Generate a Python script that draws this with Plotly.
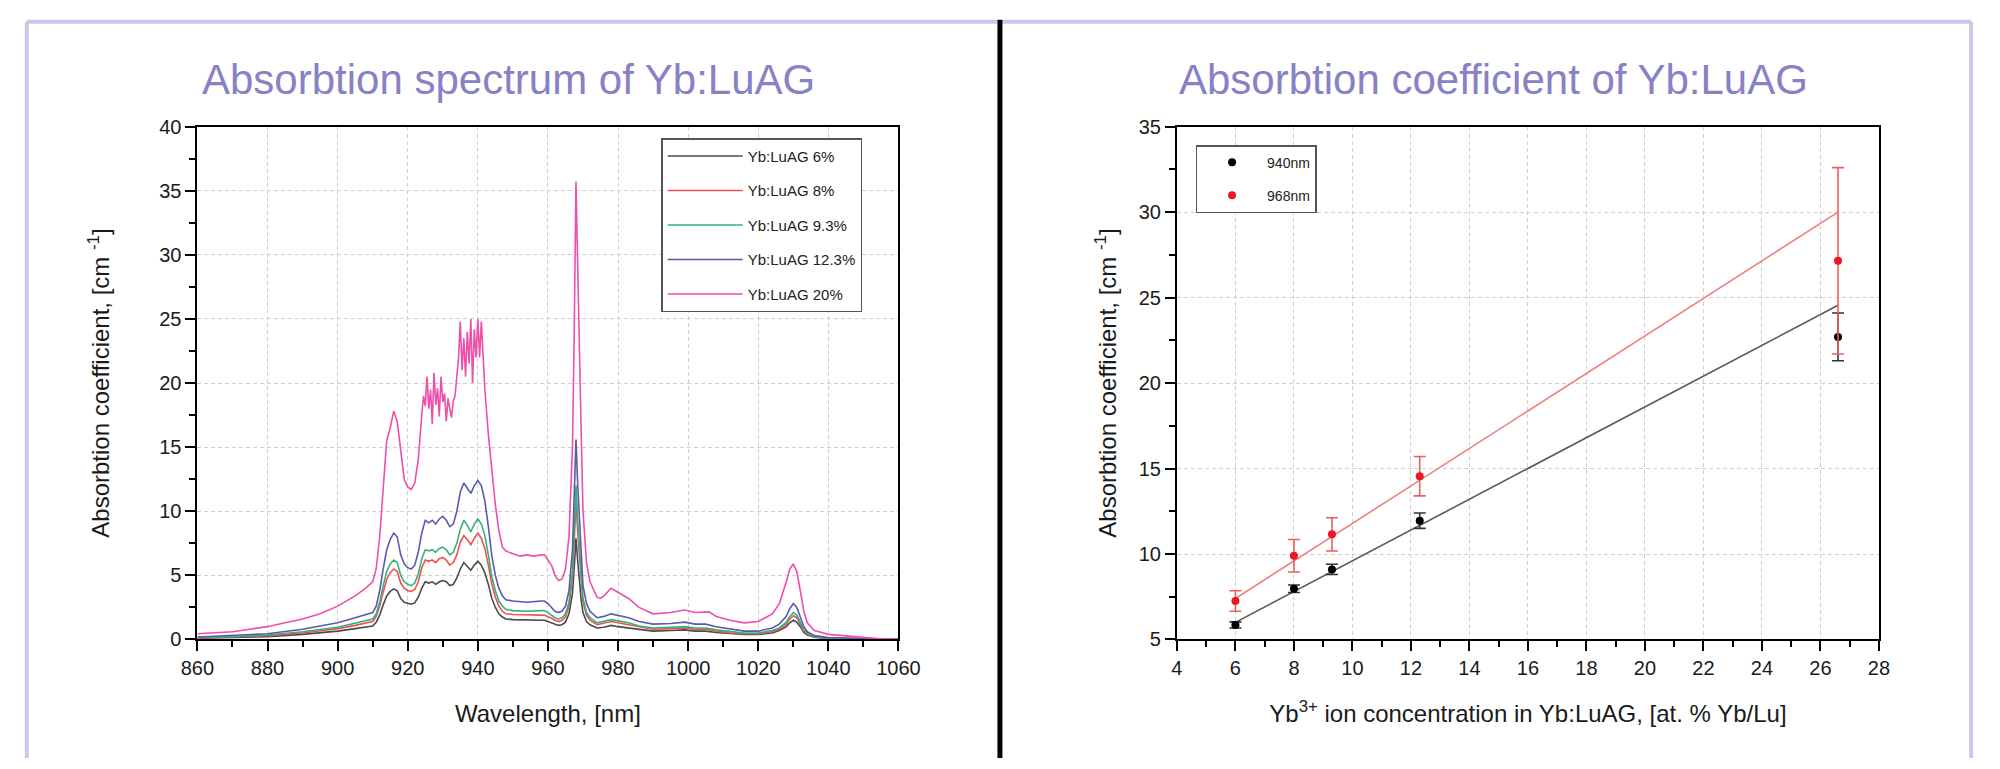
import plotly.graph_objects as go

# ---------------- data: absorption spectra ----------------
wl_grid = [
    860, 870, 880, 890, 900, 905, 908, 910,
    911, 912, 913, 914, 915, 916, 917, 918, 919, 920,
    921, 922, 923, 924, 925, 926, 927, 928, 929, 930,
    931, 932, 933, 934, 935, 936, 937, 938, 939, 940,
    941, 942, 943, 944, 945, 946, 947, 948, 950, 954,
    958, 959, 960, 961, 962, 963, 964, 965, 966, 967,
    967.5, 968, 968.5, 969, 969.5, 970, 971, 972, 974, 976,
    978, 980, 983, 986, 990, 995, 999, 1002, 1005, 1008,
    1012, 1016, 1020, 1024, 1026, 1028, 1029, 1030, 1031, 1032,
    1033, 1034, 1036, 1040, 1045, 1050, 1055, 1060,
]

abs_6 = [
    0.10, 0.15, 0.22, 0.40, 0.65, 0.85, 1.00, 1.05,
    1.35, 1.9, 2.7, 3.4, 3.75, 3.95, 3.8, 3.2, 2.9, 2.8,
    2.75, 2.85, 3.3, 4.0, 4.5, 4.4, 4.5, 4.3, 4.5, 4.6,
    4.5, 4.2, 4.3, 4.8, 5.5, 6.0, 5.7, 5.4, 5.8, 6.1,
    5.8, 5.2, 4.3, 3.2, 2.5, 2.0, 1.75, 1.6, 1.55, 1.5,
    1.5, 1.5, 1.4, 1.3, 1.15, 1.1, 1.15, 1.35, 2.0, 3.6,
    5.6, 7.9, 6.1, 4.5, 3.0, 2.1, 1.4, 1.15, 0.9, 0.95,
    1.1, 1.0, 0.9, 0.75, 0.65, 0.7, 0.75, 0.65, 0.65, 0.55,
    0.45, 0.4, 0.4, 0.5, 0.7, 1.0, 1.3, 1.5, 1.35, 1.0,
    0.55, 0.35, 0.18, 0.08, 0.05, 0.03, 0.01, 0.0,
]

abs_8 = [
    0.12, 0.20, 0.30, 0.50, 0.85, 1.10, 1.30, 1.40,
    1.8, 2.6, 3.7, 4.7, 5.2, 5.5, 5.3, 4.4, 4.0, 3.8,
    3.75, 3.9, 4.5, 5.6, 6.2, 6.1, 6.2, 6.0, 6.3, 6.4,
    6.2, 5.8, 6.0, 6.6, 7.6, 8.1, 7.8, 7.4, 7.9, 8.3,
    7.9, 7.1, 5.8, 4.3, 3.3, 2.6, 2.2, 2.0, 1.95, 1.9,
    1.9, 1.9, 1.8, 1.65, 1.5, 1.4, 1.5, 1.75, 2.6, 4.8,
    7.6, 10.8, 8.3, 6.2, 4.1, 2.9, 1.9, 1.5, 1.15, 1.25,
    1.4, 1.3, 1.15, 0.95, 0.8, 0.85, 0.9, 0.8, 0.8, 0.65,
    0.5, 0.45, 0.45, 0.6, 0.8, 1.2, 1.6, 1.85, 1.7, 1.2,
    0.65, 0.4, 0.2, 0.1, 0.07, 0.03, 0.02, 0.01,
]

abs_93 = [
    0.15, 0.22, 0.35, 0.60, 0.95, 1.25, 1.45, 1.60,
    2.0, 2.9, 4.2, 5.3, 5.9, 6.2, 6.0, 5.0, 4.5, 4.3,
    4.2, 4.4, 5.1, 6.3, 7.0, 6.9, 7.0, 6.8, 7.1, 7.2,
    7.0, 6.6, 6.8, 7.5, 8.6, 9.3, 8.9, 8.4, 9.0, 9.4,
    9.0, 8.1, 6.6, 4.9, 3.8, 3.0, 2.6, 2.35, 2.25, 2.2,
    2.25, 2.25, 2.1, 1.9, 1.7, 1.6, 1.7, 2.0, 2.9, 5.3,
    8.4, 12.0, 9.2, 6.9, 4.6, 3.2, 2.1, 1.7, 1.3, 1.4,
    1.55, 1.45, 1.3, 1.05, 0.9, 0.95, 1.0, 0.9, 0.9, 0.75,
    0.6, 0.5, 0.5, 0.7, 0.9, 1.35, 1.8, 2.1, 1.9, 1.35,
    0.75, 0.45, 0.22, 0.12, 0.08, 0.04, 0.02, 0.01,
]

abs_123 = [
    0.20, 0.30, 0.45, 0.80, 1.30, 1.70, 1.95, 2.10,
    2.6, 3.8, 5.5, 7.0, 7.8, 8.3, 8.0, 6.6, 5.9, 5.6,
    5.5, 5.8, 6.8, 8.3, 9.3, 9.1, 9.3, 9.0, 9.4, 9.6,
    9.3, 8.8, 9.0, 10.0, 11.5, 12.2, 11.8, 11.4, 12.0, 12.4,
    12.0, 10.8, 8.8, 6.5, 5.0, 4.0, 3.4, 3.1, 3.0, 2.9,
    3.0, 3.0, 2.8, 2.5, 2.2, 2.1, 2.2, 2.6, 3.8, 7.0,
    11.0, 15.6, 12.0, 9.0, 6.0, 4.2, 2.8, 2.2, 1.7, 1.8,
    2.0, 1.9, 1.7, 1.4, 1.2, 1.25, 1.35, 1.2, 1.2, 1.0,
    0.8, 0.65, 0.65, 0.9, 1.2, 1.8, 2.4, 2.8, 2.5, 1.8,
    1.0, 0.6, 0.3, 0.15, 0.1, 0.05, 0.02, 0.01,
]

wl_20 = [
    860, 865, 870, 875, 880, 885, 890, 895, 900, 905,
    908, 910, 911, 912, 913, 914, 915, 916, 917, 918,
    919, 920, 921, 922, 923, 924, 924.5, 925, 925.5, 926,
    926.5, 927, 927.5, 928, 928.5, 929, 929.5, 930, 930.5, 931,
    931.5, 932, 932.5, 933, 933.5, 934, 934.5, 935, 935.5, 936,
    936.5, 937, 937.5, 938, 938.5, 939, 939.5, 940, 940.5, 941,
    941.5, 942, 943, 944, 945, 946, 947, 948, 950, 952,
    954, 956, 958, 959, 960, 961, 962, 963, 964, 965,
    966, 967, 967.5, 968, 968.5, 969, 969.5, 970, 971, 972,
    974, 975, 976, 978, 980, 983, 986, 990, 995, 999,
    1002, 1005, 1006, 1008, 1012, 1016, 1020, 1024, 1026, 1028,
    1029, 1030, 1031, 1032, 1033, 1034, 1036, 1040, 1045, 1050, 1055, 1060,
]
abs_20 = [
    0.45, 0.5, 0.6, 0.8, 1.0, 1.3, 1.6, 2.0, 2.6, 3.4,
    4.0, 4.5, 5.5, 8.0, 12.0, 15.5, 16.5, 17.8, 17.0, 14.5,
    12.5, 11.9, 11.7, 12.2, 14.0, 17.5, 19.0, 18.2, 20.5, 18.0,
    19.5, 16.8, 20.8, 18.3, 19.6, 17.4, 20.5, 18.5, 19.2, 17.0,
    18.8, 18.0, 17.3, 18.6, 19.0, 20.5, 22.0, 24.8, 21.0, 23.5,
    20.5, 24.0, 21.5, 25.0, 20.0, 24.2, 22.0, 25.0, 22.0, 24.8,
    22.0, 19.5, 16.0, 13.0, 10.5, 8.5, 7.2, 6.9, 6.7, 6.5,
    6.6, 6.5, 6.6, 6.6, 6.2, 5.8, 5.0, 4.6, 4.7, 5.5,
    8.0, 15.0, 24.0, 35.7, 29.0, 23.5, 16.0, 10.0, 6.0, 4.5,
    3.3, 3.2, 3.4, 4.0, 3.7, 3.2, 2.5, 2.0, 2.1, 2.3,
    2.1, 2.1, 2.15, 1.8, 1.5, 1.3, 1.4, 2.0, 2.8, 4.5,
    5.5, 5.9, 5.3, 3.8, 2.2, 1.3, 0.7, 0.4, 0.3, 0.15, 0.05, 0.02,
]

spectrum_names = ["Yb:LuAG 6%", "Yb:LuAG 8%", "Yb:LuAG 9.3%", "Yb:LuAG 12.3%", "Yb:LuAG 20%"]

# ---------------- data: absorption coefficient vs concentration ----------------
conc = [6, 8, 9.3, 12.3, 26.6]
coef_940 = [5.85, 7.97, 9.1, 11.95, 22.7]
err_940 = [0.18, 0.22, 0.3, 0.45, 1.4]
coef_968 = [7.25, 9.9, 11.15, 14.55, 27.15]
err_968 = [0.6, 0.95, 0.97, 1.15, 5.45]
fit_x = [6, 26.6]
fit_940 = [6.0, 24.55]
fit_968 = [7.4, 30.0]

# ---------------- figure ----------------
W, H = 2000, 769
def px(x):
    return x / W
def py(y):
    return 1 - y / H

FONT = "Liberation Sans, Arial, Helvetica, sans-serif"
TITLE_COLOR = "#8781C6"

fig = go.Figure()

spec_colors = ["#4a4a4a", "#F05050", "#35B27A", "#5A5AAE", "#EE4FA8"]
spec_x = [wl_grid, wl_grid, wl_grid, wl_grid, wl_20]
spec_y = [abs_6, abs_8, abs_93, abs_123, abs_20]
for name, xs, ys, col in zip(spectrum_names, spec_x, spec_y, spec_colors):
    fig.add_trace(go.Scatter(
        x=xs, y=ys, mode="lines", name=name,
        line=dict(color=col, width=1.6),
        xaxis="x", yaxis="y", legend="legend", legendgroup=name,
    ))

fig.add_trace(go.Scatter(x=fit_x, y=fit_968, mode="lines", showlegend=False,
                         line=dict(color="#F08080", width=1.6), xaxis="x2", yaxis="y2"))
fig.add_trace(go.Scatter(x=fit_x, y=fit_940, mode="lines", showlegend=False,
                         line=dict(color="#5a5a5a", width=1.6), xaxis="x2", yaxis="y2"))
fig.add_trace(go.Scatter(
    x=conc, y=coef_940, mode="markers", name="940nm",
    marker=dict(color="black", size=8),
    error_y=dict(type="data", array=err_940, color="#333333", thickness=1.6, width=6),
    xaxis="x2", yaxis="y2", legend="legend2", legendgroup="940",
))
fig.add_trace(go.Scatter(
    x=conc, y=coef_968, mode="markers", name="968nm",
    marker=dict(color="#E8191F", size=8),
    error_y=dict(type="data", array=err_968, color="#E86060", thickness=1.6, width=6),
    xaxis="x2", yaxis="y2", legend="legend2", legendgroup="968",
))

tickfont = dict(family=FONT, size=20, color="#1a1a1a")
titlefont = dict(family=FONT, size=24, color="#1a1a1a")
axis_common = dict(
    showline=True, linecolor="black", linewidth=2, mirror=True,
    ticks="outside", tickcolor="black", tickwidth=2, ticklen=10,
    showgrid=True, gridcolor="#cfcfcf", griddash="4px,3px", gridwidth=1,
    zeroline=False, tickfont=tickfont,
)
def minor(dt):
    return dict(dtick=dt, ticks="outside", ticklen=6, tickwidth=2, tickcolor="black", showgrid=False)

y_bot = py(647)
y_top = py(119)
fig.update_layout(
    width=W, height=H, margin=dict(l=0, r=0, t=0, b=0),
    paper_bgcolor="white", plot_bgcolor="white",
    font=dict(family=FONT),
    xaxis=dict(domain=[px(184), px(899)], range=[860, 1060], dtick=20, tick0=860, minor=minor(10),
               title=dict(text="Wavelength, [nm]", font=titlefont, standoff=27),
               anchor="y", **axis_common),
    yaxis=dict(domain=[y_bot, y_top], range=[0, 40], dtick=5, tick0=0, minor=minor(2.5),
               title=dict(text="Absorbtion coefficient, [cm <sup>-1</sup>]", font=titlefont, standoff=43),
               anchor="x", **axis_common),
    xaxis2=dict(domain=[px(1183), px(1899)], range=[4, 28], dtick=2, tick0=4, minor=minor(1),
                title=dict(text="Yb<sup>3+</sup> ion concentration in Yb:LuAG, [at. % Yb/Lu]",
                           font=titlefont, standoff=27),
                anchor="y2", **axis_common),
    yaxis2=dict(domain=[y_bot, y_top], range=[5, 35], dtick=5, tick0=5, minor=minor(2.5),
                title=dict(text="Absorbtion coefficient, [cm <sup>-1</sup>]", font=titlefont, standoff=15),
                anchor="x2", **axis_common),
    legend=dict(x=px(657), y=py(131), xanchor="left", yanchor="top",
                bgcolor="white", bordercolor="#555555", borderwidth=1.5,
                font=dict(family=FONT, size=15, color="#222"),
                tracegroupgap=12, itemwidth=75),
    legend2=dict(x=px(1202), y=py(138), xanchor="left", yanchor="top",
                 bgcolor="white", bordercolor="#555555", borderwidth=1.5,
                 font=dict(family=FONT, size=14, color="#222"),
                 tracegroupgap=12, itemwidth=60),
)

# titles
fig.add_annotation(text="Absorbtion spectrum of Yb:LuAG", x=px(501), y=py(71),
                   xref="paper", yref="paper", showarrow=False, xanchor="center", yanchor="middle",
                   font=dict(family=FONT, size=42, color=TITLE_COLOR))
fig.add_annotation(text="Absorbtion coefficient of Yb:LuAG", x=px(1506), y=py(71),
                   xref="paper", yref="paper", showarrow=False, xanchor="center", yanchor="middle",
                   font=dict(family=FONT, size=42, color=TITLE_COLOR))

# panel frames
LAV = "#C9C9EC"
frame_lines = [
    (10, 11, 10, H), (10, 11, 1000, 11),
    (1005, 11, 1993, 11), (1993, 11, 1993, H),
]
for x0, y0, x1, y1 in frame_lines:
    fig.add_shape(type="line", xref="paper", yref="paper",
                  x0=px(x0), y0=py(y0), x1=px(x1), y1=py(y1),
                  line=dict(color=LAV, width=4), layer="below")
fig.add_shape(type="line", xref="paper", yref="paper",
              x0=px(1002.5), y0=py(9), x1=px(1002.5), y1=py(H),
              line=dict(color="black", width=5))

fig.write_html(
    "out.html",
    config={"displayModeBar": False},
    post_script="document.body.style.margin='0';document.body.style.padding='0';"
                "document.body.style.overflow='hidden';",
)
